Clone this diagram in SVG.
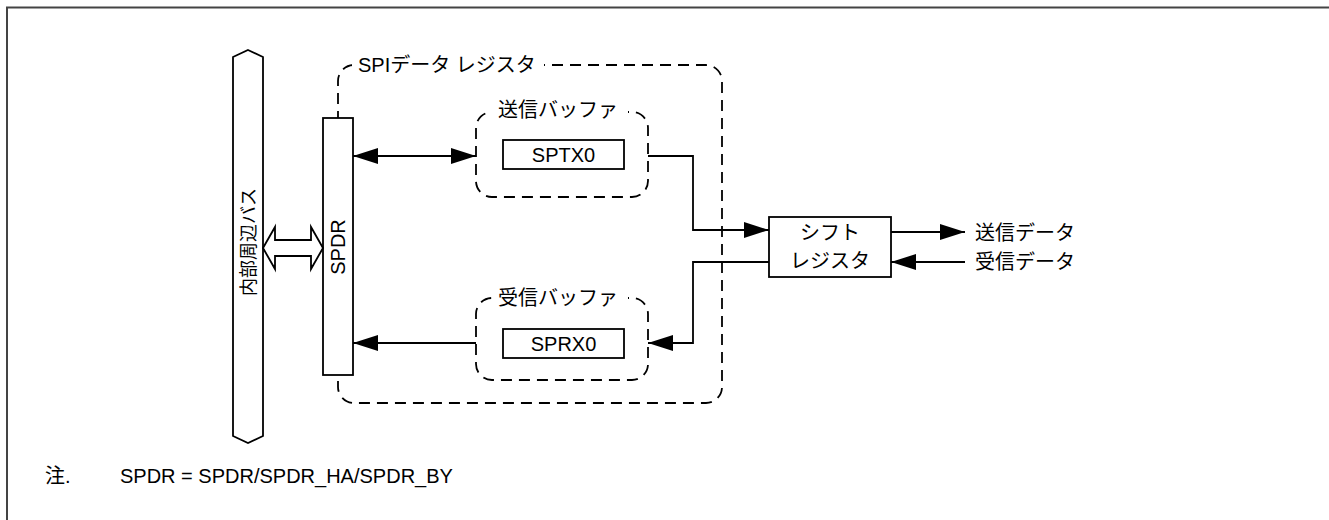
<svg xmlns="http://www.w3.org/2000/svg" width="1329" height="520" viewBox="0 0 1329 520">
<defs>
<style>
.t{font-family:"Liberation Sans","Noto Sans CJK JP",sans-serif;font-size:20px;fill:#000}
.box{fill:#fff;stroke:#000;stroke-width:1.8}
.dash{fill:none;stroke:#000;stroke-width:1.8;stroke-dasharray:11 7}
.ln{fill:none;stroke:#000;stroke-width:1.8}
</style>
<marker id="ah" viewBox="0 0 25 16" refX="25" refY="8" markerWidth="25" markerHeight="16" markerUnits="userSpaceOnUse" orient="auto-start-reverse">
<path d="M0,0 L25,8 L0,16 Z" fill="#000"/>
</marker>
</defs>
<rect width="1329" height="520" fill="#fff"/>
<path d="M7,520 V7.5 H1329" fill="none" stroke="#444" stroke-width="2"/>

<g id="spi-register">
<rect class="dash" x="338" y="65" width="384" height="338" rx="16"/>
<rect x="352" y="55" width="192" height="20" fill="#fff"/>
<text class="t" x="358" y="72">SPIデータ レジスタ</text>
</g>

<g id="bus">
<polygon class="box" points="248,50 263,57 263,436 248,443 233,436 233,57"/>
<text class="t" transform="translate(255,242) rotate(-90)" text-anchor="middle" style="font-size:18px">内部周辺バス</text>
</g>

<g id="spdr">
<rect class="box" x="323" y="118" width="30" height="257"/>
<text class="t" transform="translate(345,247) rotate(-90)" text-anchor="middle">SPDR</text>
</g>

<g id="tx-buffer">
<rect class="dash" x="476" y="112" width="172" height="85" rx="16"/>
<rect x="492" y="100" width="136" height="20" fill="#fff"/>
<text class="t" x="498" y="117">送信バッファ</text>
</g>

<g id="sptx0">
<rect class="box" x="503" y="140" width="121" height="29"/>
<text class="t" x="563.5" y="161.5" text-anchor="middle">SPTX0</text>
</g>

<g id="rx-buffer">
<rect class="dash" x="476" y="298" width="172" height="82" rx="16"/>
<rect x="492" y="288" width="136" height="20" fill="#fff"/>
<text class="t" x="498" y="305">受信バッファ</text>
</g>

<g id="sprx0">
<rect class="box" x="503" y="329" width="121" height="29"/>
<text class="t" x="563.5" y="350.5" text-anchor="middle">SPRX0</text>
</g>

<g id="shift-register">
<rect class="box" x="769" y="217" width="122" height="60"/>
<text class="t" x="830" y="240" text-anchor="middle">シフト</text>
<text class="t" x="830" y="268" text-anchor="middle">レジスタ</text>
</g>

<g id="tx-data">
<text class="t" x="975" y="240">送信データ</text>
</g>
<g id="rx-data">
<text class="t" x="975" y="269">受信データ</text>
</g>

<g id="connectors">
<polygon class="box" points="263,248 275,227 275,240 311,240 311,227 323,248 311,269 311,256 275,256 275,269"/>
<line class="ln" x1="353" y1="156" x2="476" y2="156" marker-start="url(#ah)" marker-end="url(#ah)"/>
<polyline class="ln" points="648,156 693,156 693,230 769,230" marker-end="url(#ah)"/>
<polyline class="ln" points="769,262 693,262 693,343 648,343" marker-end="url(#ah)"/>
<line class="ln" x1="476" y1="343" x2="353" y2="343" marker-end="url(#ah)"/>
<line class="ln" x1="891" y1="232" x2="965" y2="232" marker-end="url(#ah)"/>
<line class="ln" x1="965" y1="262" x2="891" y2="262" marker-end="url(#ah)"/>
</g>

<g id="note">
<text class="t" x="45" y="483">注.</text>
<text class="t" x="120" y="483">SPDR = SPDR/SPDR_HA/SPDR_BY</text>
</g>
</svg>
